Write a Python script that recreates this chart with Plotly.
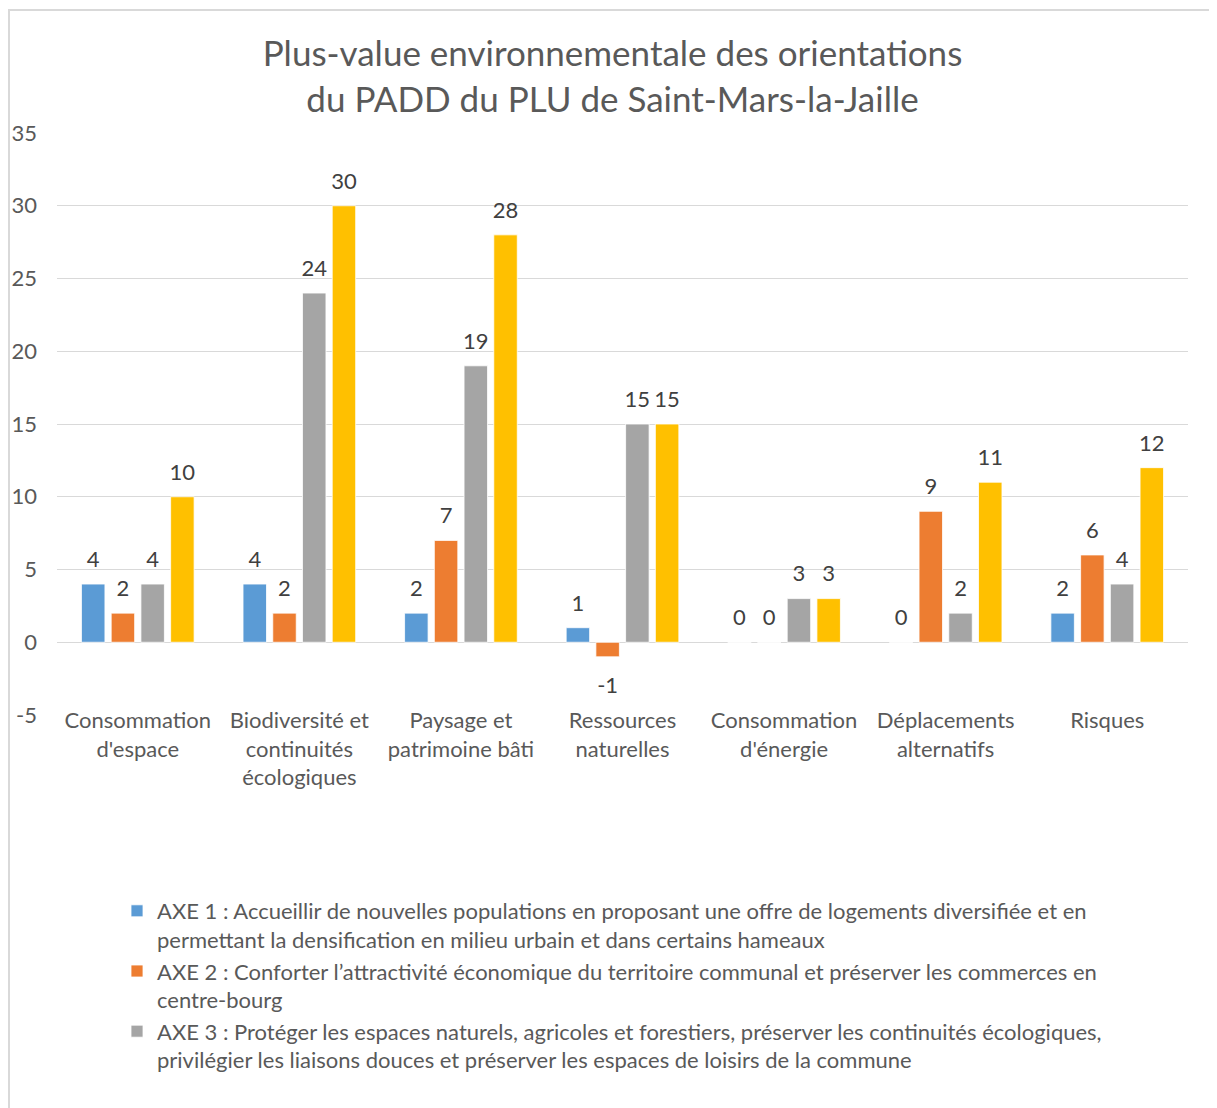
import plotly.graph_objects as go

categories = [
    "Consommation<br>d'espace",
    "Biodiversité et<br>continuités<br>écologiques",
    "Paysage et<br>patrimoine bâti",
    "Ressources<br>naturelles",
    "Consommation<br>d'énergie",
    "Déplacements<br>alternatifs",
    "Risques",
]
axe1 = [4, 4, 2, 1, 0, 0, 2]
axe2 = [2, 2, 7, -1, 0, 9, 6]
axe3 = [4, 24, 19, 15, 3, 2, 4]
total = [10, 30, 28, 15, 3, 11, 12]

names = [
    "AXE 1 : Accueillir de nouvelles populations en proposant une offre de logements diversifiée et en<br>permettant la densification en milieu urbain et dans certains hameaux",
    "AXE 2 : Conforter l’attractivité économique du territoire communal et préserver les commerces en<br>centre-bourg",
    "AXE 3 : Protéger les espaces naturels, agricoles et forestiers, préserver les continuités écologiques,<br>privilégier les liaisons douces et préserver les espaces de loisirs de la commune",
    "Total",
]
colors = ["#5B9BD5", "#ED7D31", "#A5A5A5", "#FFC000"]
series = [axe1, axe2, axe3, total]
ticks = [-5, 0, 5, 10, 15, 20, 25, 30, 35]

FONT = "Lato"
TXT = "#595959"
BARGAP = 0.264

fig = go.Figure()
for i, (vals, name, col) in enumerate(zip(series, names, colors)):
    fig.add_trace(go.Bar(
        x=categories, y=vals, name=name, offsetgroup=str(i),
        marker=dict(color=col, line=dict(color="white", width=0.8)),
        showlegend=(i < 3),
    ))
# data labels (transparent markers give the label offset from the bar end)
for i, vals in enumerate(series):
    fig.add_trace(go.Scatter(
        x=categories, y=vals, offsetgroup=str(i),
        mode="markers+text",
        marker=dict(size=[17 if v >= 0 else 30 for v in vals], opacity=0),
        text=[str(v) for v in vals],
        textposition=["top center" if v >= 0 else "bottom center" for v in vals],
        textfont=dict(family=FONT, size=22, color="#404040"),
        cliponaxis=False, showlegend=False, hoverinfo="skip",
    ))

# page body has an 8px margin: figure coordinates = screen coordinates - 8
W, H = 1209, 1100
L, T = 49, 125
R = W - 1180
B = H - 707
pw = W - L - R
ph = H - T - B

fig.update_layout(
    width=W, height=H,
    margin=dict(l=L, r=R, t=T, b=B, autoexpand=False),
    paper_bgcolor="white", plot_bgcolor="white",
    barmode="group", bargap=BARGAP, bargroupgap=0.21,
    scattermode="group", scattergap=BARGAP,
    font=dict(family=FONT, size=22, color=TXT),
    title=dict(
        text="Plus-value environnementale des orientations<br>du PADD du PLU de Saint-Mars-la-Jaille",
        x=0.5, xref="container", xanchor="center",
        y=1 - 58 / H, yref="container", yanchor="middle",
        font=dict(family=FONT, size=35, color=TXT),
    ),
    xaxis=dict(
        showgrid=False, showline=False, ticks="",
        tickfont=dict(family=FONT, size=22, color=TXT),
        range=[-0.5, 6.5],
        ticklabelstandoff=-10,
    ),
    yaxis=dict(
        range=[-5, 35], tickvals=ticks, ticktext=[str(t) for t in ticks],
        showgrid=True, gridcolor="#D9D9D9", gridwidth=1.3,
        zeroline=True, zerolinecolor="#D9D9D9", zerolinewidth=1.3,
        showline=False, ticks="",
        tickfont=dict(family=FONT, size=22, color=TXT),
        ticklabelstandoff=19,
    ),
    legend=dict(
        orientation="v",
        x=(109 - L) / pw, xanchor="left",
        y=(H - B - 882) / ph, yanchor="top",
        font=dict(family=FONT, size=22, color=TXT),
        itemwidth=30, tracegroupgap=0, valign="top",
        bgcolor="rgba(0,0,0,0)",
    ),
    shapes=[dict(
        type="rect", xref="paper", yref="paper",
        x0=(1 - L) / pw, x1=(1208 - L) / pw,
        y0=(H - B - 1110) / ph, y1=(H - B - 2) / ph,
        line=dict(color="#D9D9D9", width=2), fillcolor="rgba(0,0,0,0)",
        layer="below",
    )],
)

fig.write_html("out.html")
